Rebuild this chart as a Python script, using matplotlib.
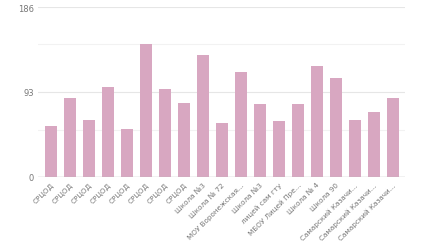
import matplotlib
matplotlib.use("Agg")
import matplotlib.pyplot as plt
import numpy as np

labels = [
    "СРЦОД", "СРЦОД", "СРЦОД", "СРЦОД", "СРЦОД", "СРЦОД", "СРЦОД", "СРЦОД",
    "Школа №3", "Школа № 72", "МОУ Воронежская...", "Школа №3", "лицей сам гту",
    "МБОУ Лицей Пре...", "Школа № 4", "Школа 90", "Самарский Казачи...",
    "Самарский Казачи...", "Самарский Казачи...",
]
values = [56, 86, 62, 99, 52, 145, 96, 81, 134, 59, 115, 80, 61, 80, 122, 108, 62, 71, 86]
y_ticks = [0, 93, 186]
minor_grid = [51, 145]

bar_color = "#d8a7c1"
grid_color = "#e6e6e6"
text_color = "#777777"

fig = plt.figure(figsize=(4.41, 2.51), dpi=100)
ax = fig.add_axes([0.086, 0.291, 0.832, 0.677])

x = np.arange(len(values))
ax.bar(x, values, width=0.64, color=bar_color, zorder=3)

ax.set_xlim(-0.68, len(values) - 0.36)
ax.set_ylim(0, 186)

# grid lines (major + lighter minor)
for v in y_ticks[1:]:
    ax.axhline(v, color=grid_color, lw=0.8, zorder=1)
for v in minor_grid:
    ax.axhline(v, color="#f2f2f2", lw=0.8, zorder=1)
ax.axhline(0, color="#bbbbbb", lw=1.0, zorder=4)

ax.set_yticks(y_ticks)
ax.set_yticklabels([str(v) for v in y_ticks], fontsize=6, color=text_color)
ax.set_xticks(x)
ax.set_xticklabels(labels, rotation=45, ha="right", rotation_mode="anchor",
                   fontsize=5.2, color=text_color)
ax.tick_params(axis="both", length=0, pad=3)

for spine in ax.spines.values():
    spine.set_visible(False)

fig.savefig("out.png", dpi=100, facecolor="white")
